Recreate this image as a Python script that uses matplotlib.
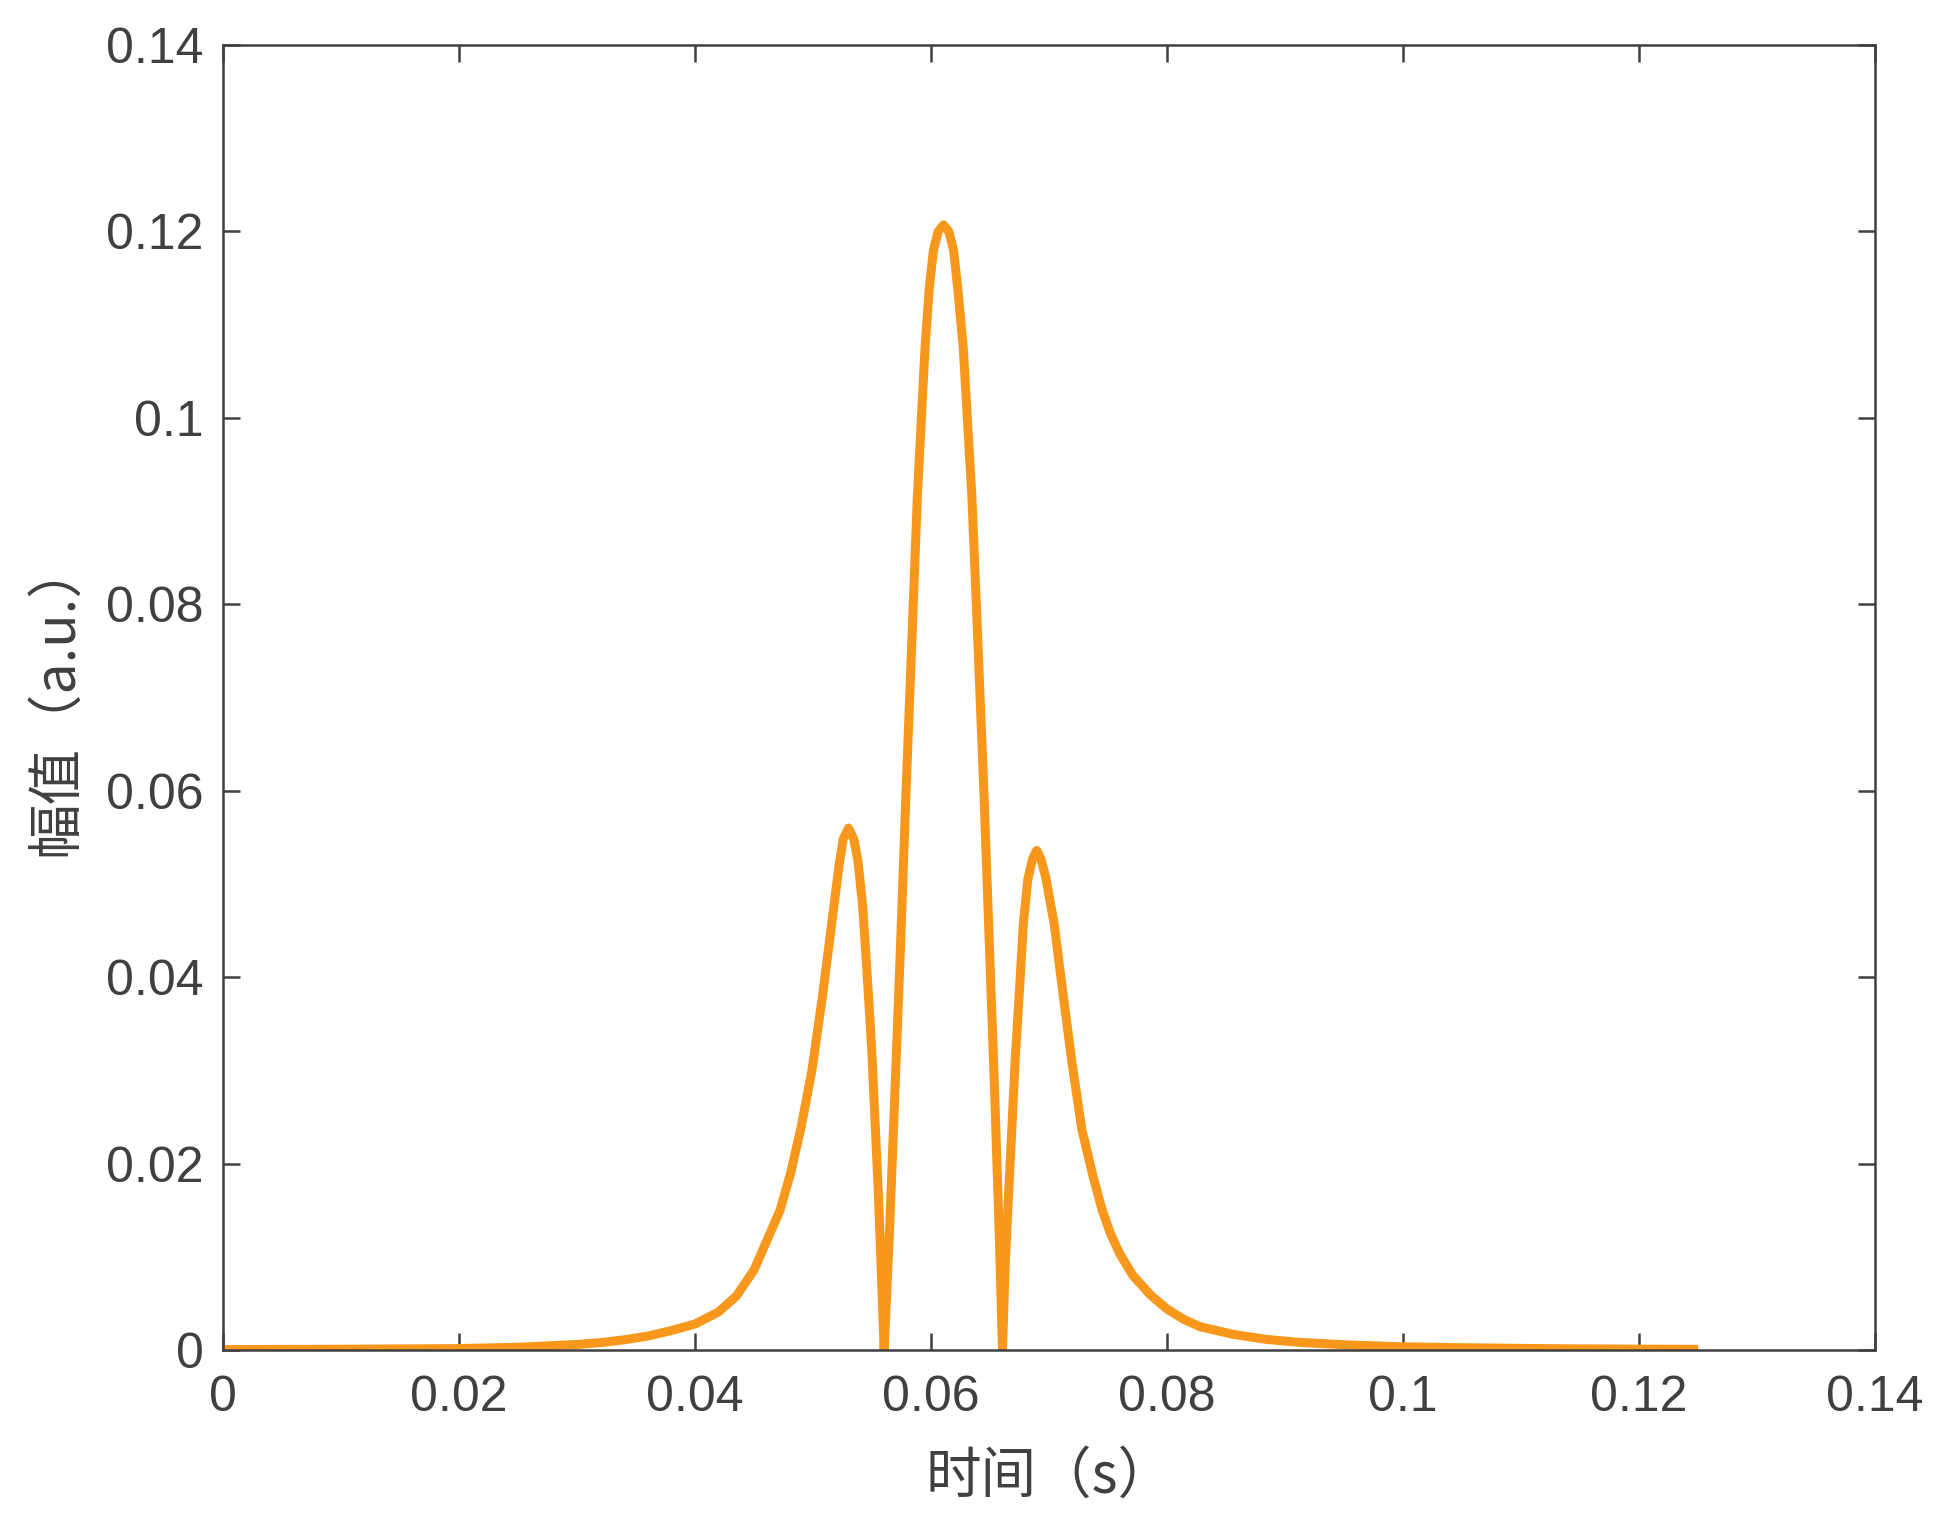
import matplotlib
matplotlib.use("Agg")
import matplotlib.pyplot as plt

plt.rcParams['font.family'] = ['Liberation Sans', 'Noto Sans CJK SC', 'DejaVu Sans']

# Curve (time in s, amplitude in a.u.)
time_s = [
    0.0, 0.010, 0.020, 0.025, 0.030, 0.032, 0.034, 0.036, 0.038, 0.040,
    0.042, 0.0435, 0.045, 0.0461, 0.0472, 0.0481, 0.0490, 0.0499, 0.0508, 0.0516,
    0.0522, 0.05255, 0.0530, 0.05345, 0.0538, 0.05421, 0.0546, 0.05497, 0.05525,
    0.05553, 0.05576, 0.05602,
    0.05646, 0.05695, 0.05743, 0.05788, 0.05836, 0.05884, 0.05949, 0.05985, 0.0602,
    0.0606, 0.06105, 0.0615, 0.0619, 0.06225, 0.06272, 0.06345, 0.06397, 0.06447,
    0.06492, 0.06537, 0.06578, 0.06605,
    0.06627, 0.06655, 0.06684, 0.06712, 0.06748, 0.06782, 0.0682, 0.0686, 0.06895,
    0.0693, 0.0697, 0.07042, 0.07116, 0.07192, 0.07277, 0.07375, 0.0745, 0.0752,
    0.0760, 0.0771, 0.0786, 0.0800, 0.0814, 0.0828, 0.08562, 0.08845, 0.09127,
    0.0955, 0.09975, 0.105, 0.110, 0.115, 0.120, 0.125,
]
amplitude = [
    0.00005, 0.00009, 0.00016, 0.0003, 0.0006, 0.0008, 0.0011, 0.0015, 0.0021, 0.0028,
    0.0041, 0.0058, 0.0086, 0.0118, 0.0150, 0.0190, 0.0240, 0.0300, 0.0380, 0.0460,
    0.0520, 0.0548, 0.0560, 0.0548, 0.0525, 0.0475, 0.0399, 0.0322, 0.0245,
    0.0169, 0.0092, 0.0,
    0.0123, 0.0282, 0.0441, 0.0600, 0.0758, 0.0917, 0.1076, 0.1140, 0.1180,
    0.1200, 0.1207, 0.1200, 0.1180, 0.1140, 0.1076, 0.0917, 0.0758, 0.0600,
    0.0441, 0.0282, 0.0123, 0.0,
    0.0089, 0.0163, 0.0237, 0.0310, 0.0384, 0.0458, 0.0505, 0.0527, 0.0536,
    0.0527, 0.0508, 0.0458, 0.0384, 0.0310, 0.0237, 0.0185, 0.0150, 0.0125,
    0.0103, 0.0080, 0.0059, 0.0044, 0.0033, 0.0025, 0.00168, 0.00114, 0.00082,
    0.00054, 0.00036, 0.00025, 0.00018, 0.00013, 0.0001, 0.00008,
]

x_ticks = [0, 0.02, 0.04, 0.06, 0.08, 0.1, 0.12, 0.14]
x_tick_labels = ['0', '0.02', '0.04', '0.06', '0.08', '0.1', '0.12', '0.14']
y_ticks = [0, 0.02, 0.04, 0.06, 0.08, 0.1, 0.12, 0.14]
y_tick_labels = ['0', '0.02', '0.04', '0.06', '0.08', '0.1', '0.12', '0.14']

x_label = '时间（s）'
y_label = '幅值（a.u.）'

text_color = '#404040'
line_color = '#F7981D'

fig = plt.figure(figsize=(19.5, 15.2), dpi=100)
ax = fig.add_axes([0.1144, 0.1118, 0.8472, 0.8586])

ax.plot(time_s, amplitude, color=line_color, linewidth=6.5, solid_joinstyle='round',
        solid_capstyle='butt')

ax.set_xlim(0, 0.14)
ax.set_ylim(0, 0.14)
ax.set_xticks(x_ticks)
ax.set_xticklabels(x_tick_labels)
ax.set_yticks(y_ticks)
ax.set_yticklabels(y_tick_labels)

ax.tick_params(axis='both', which='major', direction='in', length=12, width=1.8,
               colors=text_color, labelsize=36, top=True, right=True)
ax.tick_params(axis='x', pad=18)
ax.tick_params(axis='y', pad=14)

for sp in ax.spines.values():
    sp.set_color(text_color)
    sp.set_linewidth(1.8)

ax.set_xlabel(x_label, fontsize=40, color=text_color,
              fontfamily=['Noto Sans CJK SC', 'Liberation Sans'])
ax.xaxis.set_label_coords(0.5, -0.0973)
ax.xaxis.label.set_va('center')

ax.set_ylabel(y_label, fontsize=40, color=text_color,
              fontfamily=['Noto Sans CJK SC', 'Liberation Sans'])
ax.yaxis.set_label_coords(-0.101, 0.5)
ax.yaxis.label.set_va('center')

fig.savefig('out.png', dpi=100, facecolor='white')
